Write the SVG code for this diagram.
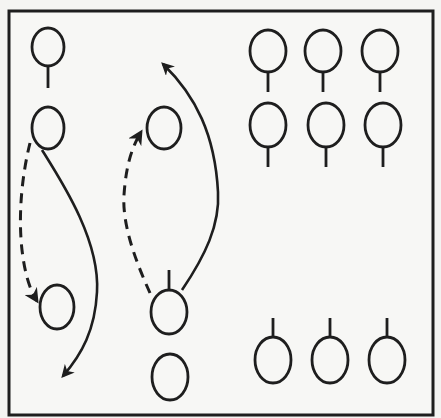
<svg xmlns="http://www.w3.org/2000/svg" width="441" height="418" viewBox="0 0 441 418">
<style>
.p{fill:none;stroke:#1e1e1e;stroke-width:2.8}
.c{fill:none;stroke:#1e1e1e;stroke-width:2.6}
.d{stroke-width:3;stroke-dasharray:10 7}
</style>
<defs>
<marker id="ah" viewBox="0 0 10 10" refX="8" refY="5" markerWidth="5" markerHeight="5" orient="auto" markerUnits="strokeWidth">
<path d="M0,0 L10,5 L0,10 L3,5 z" fill="#1e1e1e"/>
</marker>
</defs>
<rect x="0" y="0" width="441" height="418" fill="#f4f4f2"/>
<rect x="9" y="11" width="424" height="404" fill="#f7f7f5" stroke="#1e1e1e" stroke-width="3"/>
<g id="p1"><ellipse class="p" cx="48" cy="47" rx="16" ry="19"/><line class="p" x1="48" y1="66" x2="48" y2="88"/></g>
<g id="p2"><ellipse class="p" cx="48" cy="128" rx="16" ry="21"/></g>
<g id="p3"><ellipse class="p" cx="164" cy="128" rx="17" ry="21"/></g>
<g id="p4"><ellipse class="p" cx="57" cy="307" rx="17" ry="22"/></g>
<g id="p5"><ellipse class="p" cx="169" cy="312" rx="18" ry="22"/><line class="p" x1="169" y1="290" x2="169" y2="270"/></g>
<g id="p6"><ellipse class="p" cx="170" cy="377" rx="18" ry="23"/></g>
<g id="r1"><ellipse class="p" cx="268" cy="51" rx="18" ry="21"/><line class="p" x1="268" y1="72" x2="268" y2="92"/></g>
<g id="r2"><ellipse class="p" cx="323" cy="51" rx="18" ry="21"/><line class="p" x1="323" y1="72" x2="323" y2="92"/></g>
<g id="r3"><ellipse class="p" cx="380" cy="51" rx="18" ry="21"/><line class="p" x1="380" y1="72" x2="380" y2="92"/></g>
<g id="r4"><ellipse class="p" cx="268" cy="125" rx="18" ry="22"/><line class="p" x1="268" y1="147" x2="268" y2="167"/></g>
<g id="r5"><ellipse class="p" cx="326" cy="125" rx="18" ry="22"/><line class="p" x1="326" y1="147" x2="326" y2="167"/></g>
<g id="r6"><ellipse class="p" cx="383" cy="125" rx="18" ry="22"/><line class="p" x1="383" y1="147" x2="383" y2="167"/></g>
<g id="b1"><ellipse class="p" cx="273" cy="360" rx="18" ry="23"/><line class="p" x1="273" y1="337" x2="273" y2="318"/></g>
<g id="b2"><ellipse class="p" cx="330" cy="360" rx="18" ry="23"/><line class="p" x1="330" y1="337" x2="330" y2="318"/></g>
<g id="b3"><ellipse class="p" cx="387" cy="360" rx="18" ry="23"/><line class="p" x1="387" y1="337" x2="387" y2="318"/></g>
<g id="connectors">
<path class="c" d="M42,150 C62,182 100,240 97,292 C95,330 82,354 63,376" marker-end="url(#ah)"/>
<path class="c d" d="M30,143 C22,175 18,215 22,250 C25,275 30,290 37,301" marker-end="url(#ah)"/>
<path class="c d" d="M150,293 C136,262 122,225 124,195 C126,165 132,147 141,132" marker-end="url(#ah)"/>
<path class="c" d="M182,290 C205,256 220,225 218,192 C215,135 196,96 163,64" marker-end="url(#ah)"/>
</g>
</svg>
